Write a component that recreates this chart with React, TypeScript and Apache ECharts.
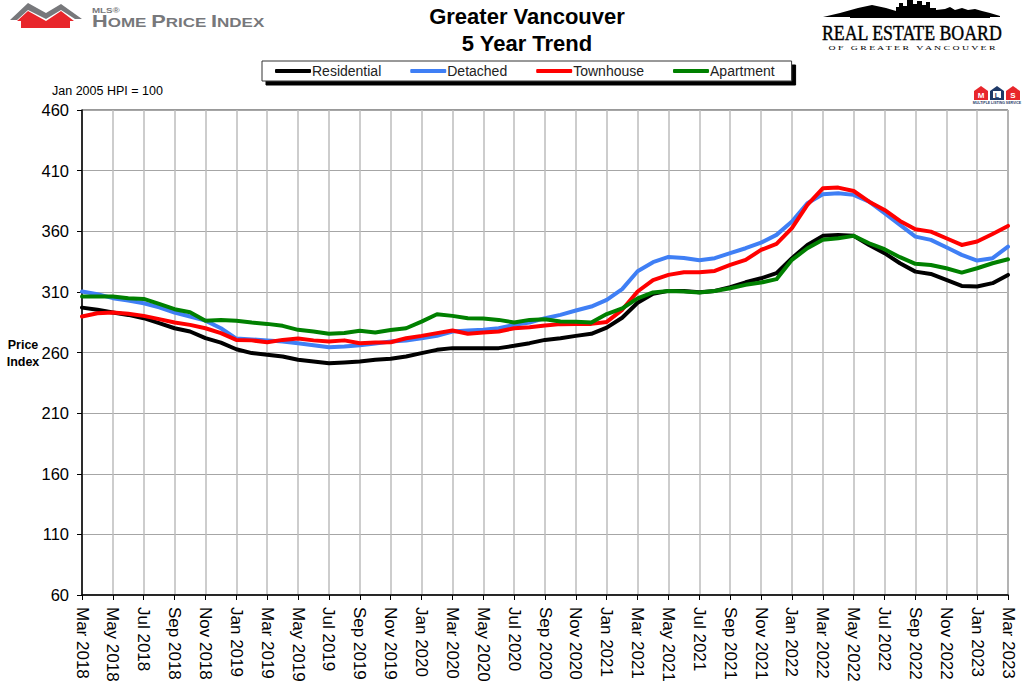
import { useEffect, useRef } from "react";
import * as echarts from "echarts";

const MONTHS = ["Jan", "Feb", "Mar", "Apr", "May", "Jun", "Jul", "Aug", "Sep", "Oct", "Nov", "Dec"];
// Mar 2018 .. Mar 2023, monthly
const PERIODS = Array.from({ length: 61 }, (_, i) => {
  const m = 2 + i;
  return `${MONTHS[m % 12]} ${2018 + Math.floor(m / 12)}`;
});

const Y_TICKS = { min: 60, max: 460, step: 50 };

const RESIDENTIAL = [
  297, 295.2, 293, 291, 288.3, 284.2, 280, 277.3, 271.8, 268.2,
  262.7, 259.5, 258.1, 256.7, 254, 252.6, 251.2, 251.8, 252.6, 254,
  254.8, 256.7, 259.5, 262.2, 263.6, 263.6, 263.6, 263.6, 265.5, 267.7,
  270.4, 271.8, 273.7, 275.4, 280.5, 288.7, 301, 308.5, 310.8, 310.8,
  309.7, 310.8, 313.9, 317.9, 321.2, 325.4, 337.8, 348.7, 356.2, 357,
  356.2, 348.7, 341.9, 333.6, 326.7, 324.8, 319.9, 314.9, 314.4, 317.2,
  324,
];

const DETACHED = [
  310.3, 308.1, 304.8, 302.8, 300.6, 297.3, 293, 289.7, 286.3, 280,
  271.5, 270.8, 270, 269, 267.6, 266, 264.4, 264.9, 266, 267.5,
  269, 269.9, 271.8, 273.7, 277.3, 278.1, 278.7, 280, 282.8, 284.7,
  288.3, 291, 294.6, 297.9, 303.4, 312.3, 327, 334.5, 338.8, 338,
  336, 337.8, 341.9, 346, 350.6, 357, 368, 383.1, 390.5, 391.3,
  390, 384.4, 374.9, 365.2, 355.6, 352.9, 346.8, 340.5, 335.8, 337.8,
  347.3,
];

const TOWNHOUSE = [
  289.7, 292.4, 293, 291.9, 290.2, 287.5, 284.7, 282.8, 280, 276,
  270.4, 270, 268.5, 270.4, 271.5, 270, 269, 270, 267.7, 268.2,
  268.5, 271.8, 273.7, 276, 278.1, 275.4, 276.5, 277.3, 280, 280.9,
  282.2, 283.4, 283.6, 283.6, 285.2, 295.2, 310.3, 319.7, 324, 326.2,
  326.2, 327.3, 332.2, 336.4, 344.6, 349.6, 362.5, 381.7, 395.4, 396,
  393.2, 384.4, 377.6, 368.5, 361.7, 359.7, 354.2, 348.7, 351.5, 357.8,
  364.4,
];

const APARTMENT = [
  306.1, 306.1, 306.1, 304.8, 304.2, 300.1, 295.7, 293.2, 286.1, 286.9,
  286.1, 284.7, 283.6, 282, 278.7, 277.3, 275.4, 276, 277.9, 276.5,
  278.5, 280, 285.5, 291.6, 290.2, 288.3, 288, 286.9, 284.7, 286.9,
  287.5, 285.5, 285.3, 284.7, 291.7, 296.3, 304.6, 309.5, 310.8, 310.3,
  309.4, 310.8, 313, 315.8, 317.7, 320.5, 336.4, 346, 352.9, 354.2,
  356.2, 350.1, 345.2, 338.6, 333.1, 332.2, 329.5, 325.9, 329.5, 333.6,
  336.9,
];

const SERIES = [
  { name: "Residential", data: RESIDENTIAL, color: "#000000" },
  { name: "Detached", data: DETACHED, color: "#3f7ff5" },
  { name: "Townhouse", data: TOWNHOUSE, color: "#ff0000" },
  { name: "Apartment", data: APARTMENT, color: "#008000" },
];

const FONT = "'Liberation Sans', Arial, sans-serif";
const SERIF = "'Liberation Serif', 'Times New Roman', serif";

function headerGraphics(): any[] {
  const gray = "#77787b";
  const red = "#e8262b";
  const navy = "#1f3a68";
  const house = (x: number, fill: string) => ({
    type: "polygon",
    shape: { points: [[x, 91], [x + 7, 86], [x + 14, 91], [x + 14, 100], [x, 100]] },
    style: { fill },
  });
  return [
    // MLS HPI logo
    {
      type: "polygon",
      shape: { points: [[10, 20], [28, 3], [46, 13], [61, 4], [82, 19], [75, 19], [61, 10], [46, 19], [28, 10], [17, 20]] },
      style: { fill: gray },
    },
    {
      type: "polygon",
      shape: { points: [[17, 21], [28, 11], [46, 21], [61, 11], [74, 21], [70, 21], [70, 28], [21, 28], [21, 21]] },
      style: { fill: red },
    },
    { type: "text", x: 92, y: 10, scaleX: 1.3, style: { text: "MLS®", font: `bold 7.5px ${FONT}`, fill: gray, verticalAlign: "middle" } },
    {
      type: "text",
      x: 92,
      y: 22,
      scaleX: 1.36,
      style: {
        text: "{b|H}{s|OME }{b|P}{s|RICE }{b|I}{s|NDEX}",
        fill: gray,
        verticalAlign: "middle",
        rich: {
          b: { fontSize: 16, fontWeight: "bold", fontFamily: FONT, fill: gray, lineHeight: 14 },
          s: { fontSize: 12.5, fontWeight: "bold", fontFamily: FONT, fill: gray, lineHeight: 14 },
        },
      },
    },
    // Real Estate Board logo
    {
      type: "polygon",
      shape: {
        points: [
          [823, 17], [840, 13], [858, 8], [872, 5], [886, 8], [896, 11], [896, 7], [899, 7], [899, 3], [903, 3],
          [903, 6], [907, 6], [907, 0], [913, 0], [913, 4], [917, 4], [917, 1], [922, 1], [922, 5], [926, 5],
          [926, 2], [930, 2], [930, 8], [936, 8], [936, 10], [945, 9], [950, 7], [955, 10], [962, 8], [968, 10],
          [975, 9], [982, 11], [990, 13], [1000, 16], [1000, 17],
        ],
      },
      style: { fill: "#000" },
    },
    { type: "rect", shape: { x: 850, y: 16, width: 140, height: 2 }, style: { fill: "#000" } },
    {
      type: "text",
      x: 822,
      y: 33,
      scaleX: 0.89,
      style: { text: "REAL ESTATE BOARD", font: `20px ${SERIF}`, fill: "#000", verticalAlign: "middle", stroke: "#000", lineWidth: 0.4 },
    },
    {
      type: "text",
      x: 912,
      y: 48,
      scaleX: 1.4,
      style: {
        text: "O F   G R E A T E R   V A N C O U V E R",
        font: `7px ${SERIF}`,
        fill: "#000",
        align: "center",
        verticalAlign: "middle",
      },
    },
    // small MLS mark
    house(974, red),
    house(990, navy),
    { type: "rect", shape: { x: 993, y: 91, width: 8, height: 7 }, style: { fill: "#fff" } },
    house(1006, red),
    { type: "text", x: 981, y: 95, style: { text: "M", font: `bold 8px ${FONT}`, fill: "#fff", align: "center", verticalAlign: "middle" } },
    { type: "text", x: 997, y: 95, style: { text: "L", font: `bold 7px ${FONT}`, fill: navy, align: "center", verticalAlign: "middle" } },
    { type: "text", x: 1013, y: 95, style: { text: "S", font: `bold 8px ${FONT}`, fill: "#fff", align: "center", verticalAlign: "middle" } },
    {
      type: "text",
      x: 997,
      y: 103,
      style: { text: "MULTIPLE LISTING SERVICE", font: `bold 3.5px ${FONT}`, fill: navy, align: "center", verticalAlign: "middle" },
    },
    // titles and notes
    {
      type: "text",
      x: 527,
      y: 16,
      style: { text: "Greater Vancouver", font: `bold 22px ${FONT}`, fill: "#000", align: "center", verticalAlign: "middle" },
    },
    {
      type: "text",
      x: 527,
      y: 43,
      style: { text: "5 Year Trend", font: `bold 22px ${FONT}`, fill: "#000", align: "center", verticalAlign: "middle" },
    },
    {
      type: "text",
      x: 52,
      y: 91,
      style: { text: "Jan 2005 HPI = 100", font: `12.5px ${FONT}`, fill: "#000", verticalAlign: "middle" },
    },
    {
      type: "text",
      x: 23,
      y: 345,
      style: { text: "Price", font: `bold 12.5px ${FONT}`, fill: "#000", align: "center", verticalAlign: "middle" },
    },
    {
      type: "text",
      x: 23,
      y: 362,
      style: { text: "Index", font: `bold 12.5px ${FONT}`, fill: "#000", align: "center", verticalAlign: "middle" },
    },
  ];
}

export default function App() {
  const chartRef = useRef<HTMLDivElement>(null);

  useEffect(() => {
    if (!chartRef.current) return;
    const chart = echarts.init(chartRef.current, undefined, { renderer: "svg" });

    const option: echarts.EChartsOption = {
      animation: false,
      backgroundColor: "#ffffff",
      textStyle: { fontFamily: FONT },
      grid: {
        left: 82,
        right: 16,
        top: 110,
        bottom: 94,
        show: true,
        borderColor: "#333",
        borderWidth: 1,
      },
      legend: {
        data: SERIES.map((s) => s.name),
        left: 262,
        top: 61,
        padding: [3, 17, 3, 13],
        itemGap: 29,
        itemWidth: 36,
        itemHeight: 4,
        icon: "roundRect",
        backgroundColor: "#fff",
        borderColor: "#333",
        borderWidth: 1,
        shadowColor: "#000",
        shadowOffsetX: 4,
        shadowOffsetY: 4,
        shadowBlur: 0,
        textStyle: { fontSize: 14, color: "#222", fontFamily: FONT, lineHeight: 14, padding: [0, 0, 0, -4] },
      },
      xAxis: {
        type: "category",
        data: PERIODS,
        boundaryGap: false,
        axisLine: { lineStyle: { color: "#000", width: 1.5 } },
        axisTick: { show: true, interval: 1, length: 5, lineStyle: { color: "#000" } },
        axisLabel: { interval: 1, rotate: -90, fontSize: 17, color: "#000", margin: 12 },
        splitLine: { show: true, interval: 1, lineStyle: { color: "#bdbdbd", width: 1.5 } },
      },
      yAxis: {
        type: "value",
        min: Y_TICKS.min,
        max: Y_TICKS.max,
        interval: Y_TICKS.step,
        axisLine: { show: true, lineStyle: { color: "#000", width: 1.5 } },
        axisTick: { show: true, length: 5, lineStyle: { color: "#000" } },
        axisLabel: { fontSize: 16.5, color: "#000", margin: 13 },
        splitLine: { show: true, lineStyle: { color: "#a6a6a6", width: 1 } },
      },
      series: SERIES.map((s) => ({
        name: s.name,
        type: "line",
        data: s.data,
        color: s.color,
        symbol: "none",
        lineStyle: { width: 4, color: s.color, cap: "round", join: "round" },
      })),
      graphic: headerGraphics(),
    };

    chart.setOption(option);
    return () => chart.dispose();
  }, []);

  return (
    <div
      ref={chartRef}
      style={{ position: "absolute", left: 0, top: 0, width: 1024, height: 689, background: "#fff" }}
    />
  );
}
